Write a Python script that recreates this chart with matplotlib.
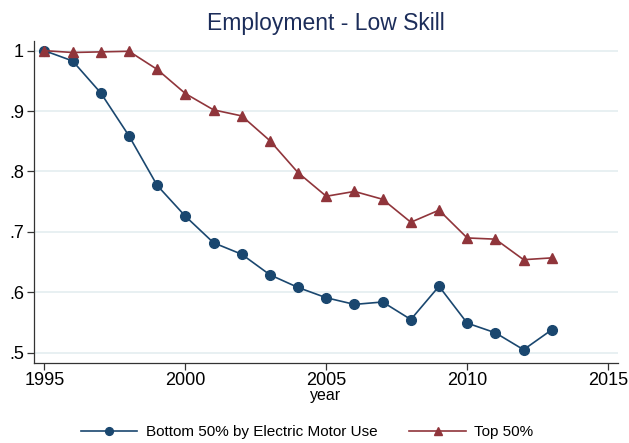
import matplotlib.pyplot as plt
import numpy as np

plt.rcParams['font.family'] = ['Liberation Sans', 'DejaVu Sans']

# data
years = list(range(1995, 2014))
bottom = [1.0, 0.983, 0.930, 0.859, 0.777, 0.726, 0.682, 0.663, 0.629, 0.608,
          0.591, 0.580, 0.584, 0.555, 0.610, 0.549, 0.533, 0.505, 0.538]
top = [1.0, 0.997, 0.998, 0.999, 0.969, 0.929, 0.902, 0.892, 0.851, 0.798,
       0.759, 0.767, 0.754, 0.716, 0.736, 0.690, 0.688, 0.654, 0.657]
xticks = [1995, 2000, 2005, 2010, 2015]
yticks = [0.5, 0.6, 0.7, 0.8, 0.9, 1.0]
ylabels = ['.5', '.6', '.7', '.8', '.9', '1']

navy = '#1a476f'
maroon = '#90353b'

fig = plt.figure(figsize=(6.29, 4.43), dpi=100, facecolor='w')
ax = fig.add_axes([33.7/629, 1 - 362.7/443, (618 - 33.7)/629, (362.7 - 40.7)/443])

ax.plot(years, bottom, color=navy, lw=1.2, marker='o', ms=7,
        label='Bottom 50% by Electric Motor Use')
ax.plot(years, top, color=maroon, lw=1.2, marker='^', ms=7.8,
        label='Top 50%')

ax.set_xlim(1994.62, 2015.35)
ax.set_ylim(0.4835, 1.0165)
ax.set_xticks(xticks)
ax.set_yticks(yticks)
ax.set_yticklabels(ylabels)
ax.tick_params(labelsize=13, length=5, width=0.9, color='#333333', pad=2)
ax.grid(axis='y', color='#e8f0f2', lw=1.4)
ax.set_axisbelow(True)
for s in ['top', 'right']:
    ax.spines[s].set_visible(False)
for s in ['left', 'bottom']:
    ax.spines[s].set_color('#333333')
    ax.spines[s].set_linewidth(0.9)

ax.set_xlabel('year', fontsize=11.5, labelpad=-1)
ax.set_title('Employment - Low Skill', fontsize=16.5, color='#1c2d5a', pad=8)

fig.legend(loc='center', bbox_to_anchor=(0.488, 1 - 432/443), ncol=2,
           frameon=False, fontsize=11, handlelength=3.7, columnspacing=2.1,
           handletextpad=0.55, markerscale=0.8)

plt.savefig('out.png', dpi=100, facecolor='w')
